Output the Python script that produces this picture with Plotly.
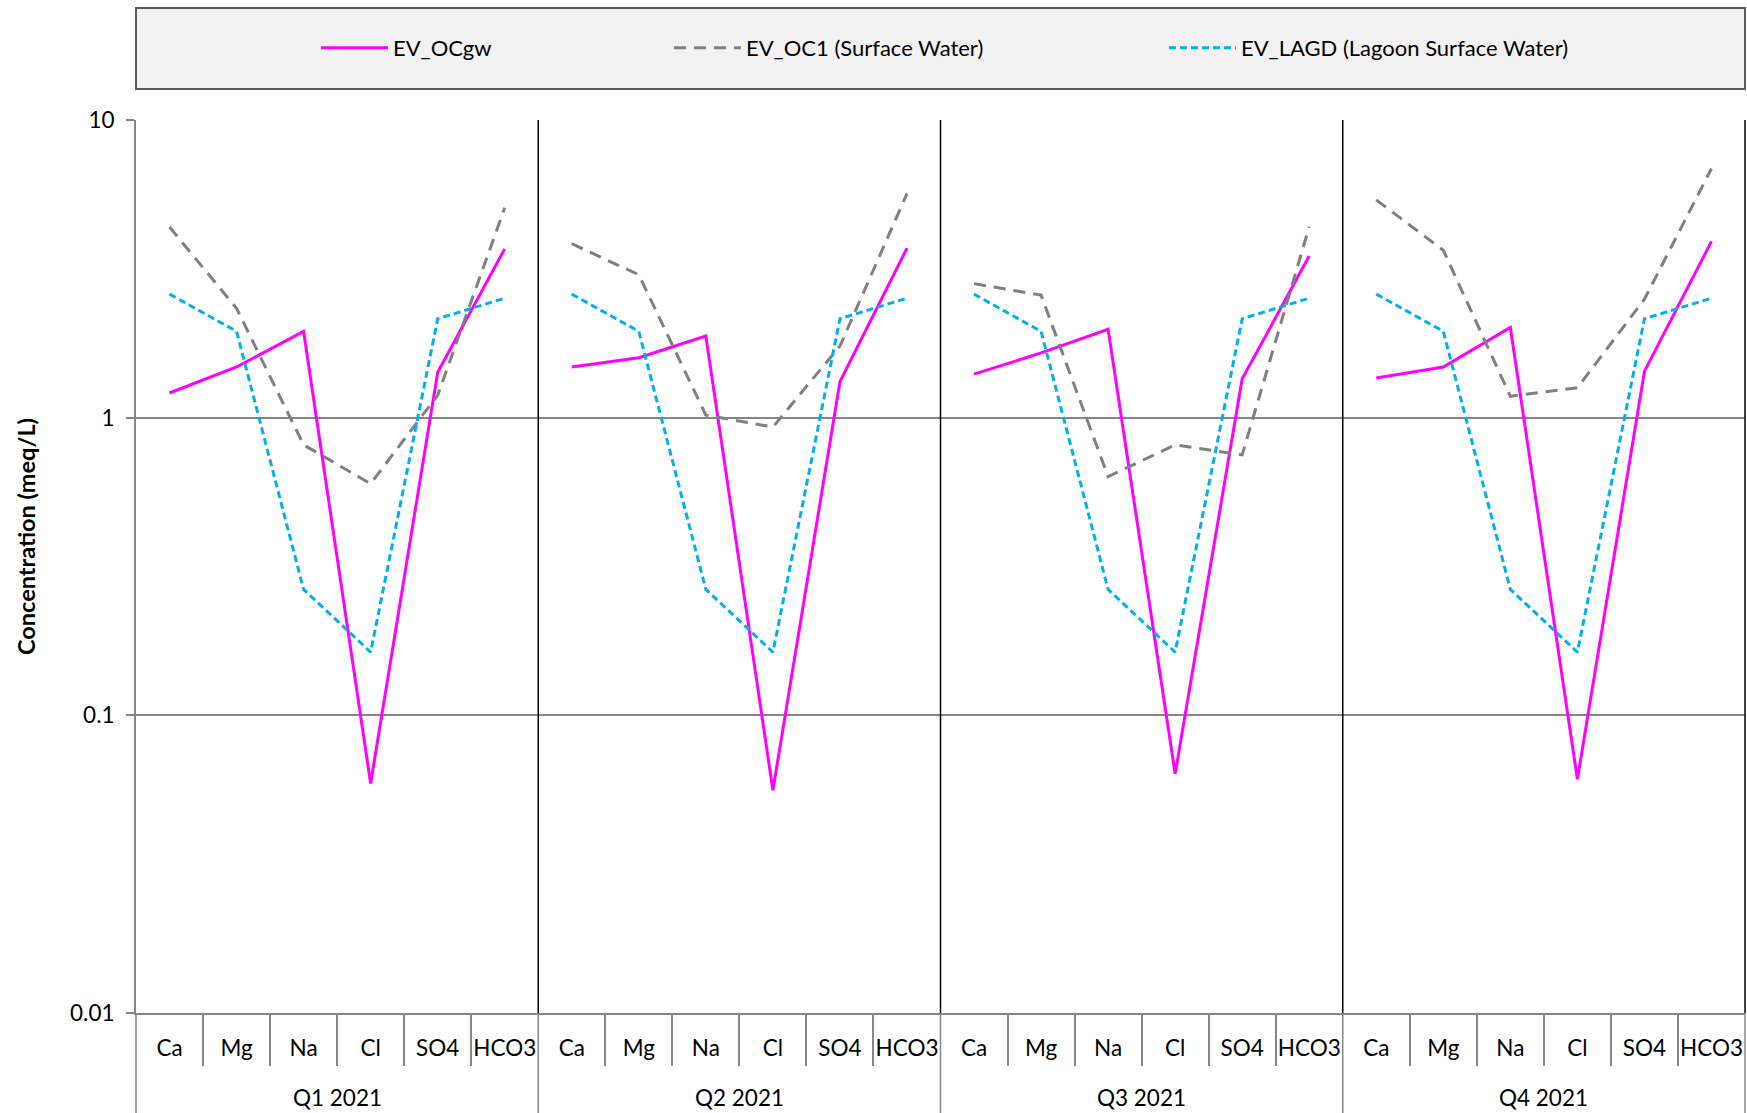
import plotly.graph_objects as go

# Sampling quarters and major ions (meq/L)
quarters = ["Q1 2021", "Q2 2021", "Q3 2021", "Q4 2021"]
ions = ["Ca", "Mg", "Na", "Cl", "SO4", "HCO3"]

# One list of ion concentrations per quarter
ev_ocgw = [
    [1.21, 1.48, 1.95, 0.059, 1.42, 3.69],
    [1.48, 1.59, 1.88, 0.056, 1.32, 3.71],
    [1.40, 1.65, 1.98, 0.0636, 1.35, 3.49],
    [1.36, 1.48, 2.01, 0.061, 1.43, 3.91],
]
ev_oc1 = [
    [4.37, 2.33, 0.81, 0.60, 1.19, 5.07],
    [3.84, 3.02, 1.02, 0.93, 1.74, 5.66],
    [2.82, 2.58, 0.634, 0.81, 0.75, 4.38],
    [5.39, 3.65, 1.18, 1.26, 2.50, 6.87],
]
ev_lagd = [
    [2.60, 1.95, 0.265, 0.163, 2.15, 2.52],
    [2.60, 1.95, 0.265, 0.163, 2.15, 2.52],
    [2.60, 1.95, 0.265, 0.163, 2.15, 2.52],
    [2.60, 1.95, 0.265, 0.163, 2.15, 2.52],
]

y_tick_vals = [0.01, 0.1, 1, 10]
y_tick_text = ["0.01", "0.1", "1", "10"]

series = [
    ("EV_OCgw", ev_ocgw, dict(color="#FF00FF", width=3, dash="solid"), "legend"),
    ("EV_OC1 (Surface Water)", ev_oc1, dict(color="#808080", width=3, dash="12px,8px"), "legend2"),
    ("EV_LAGD (Lagoon Surface Water)", ev_lagd, dict(color="#00B0F0", width=3, dash="7px,4px"), "legend3"),
]

FONT = "Lato, 'Open Sans', sans-serif"
TICK_SIZE = 22.5
W, H = 1747, 1113
M_L, M_R, M_T, M_B = 136, 2, 120, 100
plot_w = W - M_L - M_R
plot_h = H - M_T - M_B

n_ions = len(ions)
n_cat = len(quarters) * n_ions
AXIS_GRAY = "#868686"


def px_to_paper_x(px):
    return (px - M_L) / plot_w


def px_to_paper_y(py):
    return (H - M_B - py) / plot_h


# Category slot index for each quarter/ion pair
def slots(qi):
    return [qi * n_ions + k for k in range(n_ions)]


fig = go.Figure()

# Each quarter is its own segment so lines break between quarters
for name, data, line, leg in series:
    for qi, q in enumerate(quarters):
        fig.add_trace(go.Scatter(
            x=slots(qi),
            y=data[qi],
            mode="lines",
            name=name,
            line=line,
            legend=leg,
            legendgroup=name,
            showlegend=(qi == 0),
            customdata=[[q, ion] for ion in ions],
            hovertemplate="%{customdata[0]} %{customdata[1]}: %{y}<extra>" + name + "</extra>",
        ))

shapes = []
# Legend panel background
shapes.append(dict(
    type="rect", xref="paper", yref="paper",
    x0=0, x1=1, y0=px_to_paper_y(89), y1=px_to_paper_y(8),
    fillcolor="#F2F2F2", line=dict(color="#595959", width=2), layer="below",
))
bottom_paper = px_to_paper_y(H)
for qi in range(len(quarters) + 1):
    xb = qi / len(quarters)
    # Quarter separators inside the plot (and right border)
    if qi > 0:
        shapes.append(dict(
            type="line", xref="paper", yref="paper",
            x0=xb, x1=xb, y0=0, y1=1,
            line=dict(color="#000000", width=1.5),
        ))
    # Quarter dividers in the category label band
    shapes.append(dict(
        type="line", xref="paper", yref="paper",
        x0=xb, x1=xb, y0=bottom_paper, y1=0,
        line=dict(color=AXIS_GRAY, width=1.5),
    ))

# Quarter group labels
annotations = []
for qi, q in enumerate(quarters):
    annotations.append(dict(
        text=q, xref="x", yref="paper",
        x=qi * n_ions + (n_ions - 1) / 2, y=px_to_paper_y(1097),
        xanchor="center", yanchor="middle", showarrow=False,
        font=dict(family=FONT, size=TICK_SIZE, color="#000000"),
    ))
annotations.append(dict(
    text="<b>Concentration (meq/L)</b>",
    xref="paper", yref="paper", x=0, y=px_to_paper_y(537),
    xanchor="center", yanchor="middle", xshift=26 - M_L,
    textangle=-90, showarrow=False,
    font=dict(family=FONT, size=23.5, color="#000000"),
))

# Boundaries between ion categories (excluding the quarter dividers)
inner_bounds = [qi * n_ions + k - 0.5 for qi in range(len(quarters)) for k in range(1, n_ions)]

legend_common = dict(
    orientation="h", yanchor="middle", xanchor="left",
    bgcolor="rgba(0,0,0,0)", borderwidth=0,
    font=dict(family=FONT, size=22, color="#000000"),
    itemwidth=67,
)
y_leg = px_to_paper_y(48)

fig.update_layout(
    width=W, height=H,
    margin=dict(l=M_L, r=M_R, t=M_T, b=M_B),
    paper_bgcolor="white", plot_bgcolor="white",
    font=dict(family=FONT, size=TICK_SIZE, color="#000000"),
    shapes=shapes,
    annotations=annotations,
    legend=dict(legend_common, x=px_to_paper_x(316), y=y_leg),
    legend2=dict(legend_common, x=px_to_paper_x(669), y=y_leg),
    legend3=dict(legend_common, x=px_to_paper_x(1164), y=y_leg),
    xaxis=dict(
        range=[-0.5, n_cat - 0.5],
        tickmode="array",
        tickvals=list(range(n_cat)),
        ticktext=ions * len(quarters),
        ticks="", ticklabelstandoff=14,
        minor=dict(
            tickmode="array", tickvals=inner_bounds,
            ticks="outside", ticklen=51, tickcolor=AXIS_GRAY, tickwidth=1.5,
            showgrid=False,
        ),
        showline=True, linecolor=AXIS_GRAY, linewidth=2,
        showgrid=False, zeroline=False,
        tickfont=dict(family=FONT, size=TICK_SIZE, color="#000000"),
    ),
    yaxis=dict(
        type="log", range=[-2, 1],
        tickvals=y_tick_vals, ticktext=y_tick_text,
        showgrid=True, gridcolor=AXIS_GRAY, gridwidth=1.5,
        showline=True, linecolor=AXIS_GRAY, linewidth=2,
        ticks="outside", ticklen=8, tickcolor=AXIS_GRAY, tickwidth=1.5,
        ticklabelstandoff=7,
        zeroline=False,
        tickfont=dict(family=FONT, size=TICK_SIZE, color="#000000"),
    ),
)

fig.write_html("out.html")
